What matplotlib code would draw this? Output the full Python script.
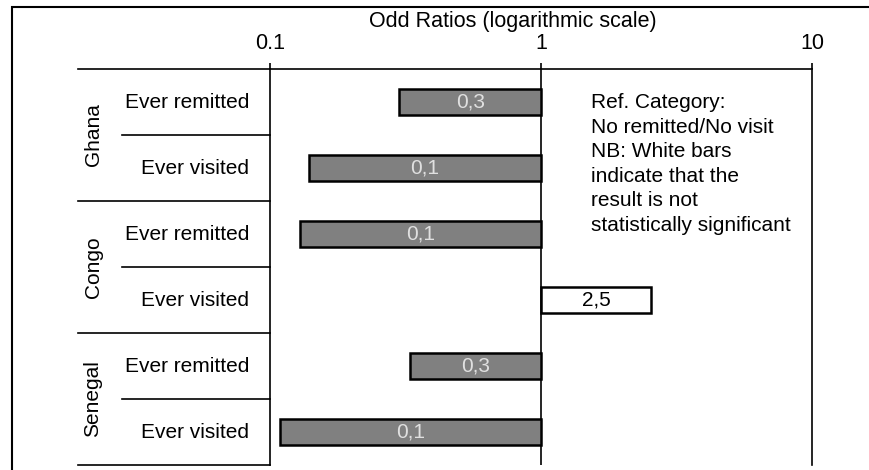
import matplotlib
matplotlib.use("Agg")
import matplotlib.pyplot as plt
import matplotlib.patches as mpatches
import numpy as np

plt.rcParams['font.family'] = ['Liberation Sans', 'DejaVu Sans']

# ---- data ----
groups = ['Ghana', 'Congo', 'Senegal']
categories = ['Ever remitted', 'Ever visited', 'Ever remitted', 'Ever visited',
              'Ever remitted', 'Ever visited']
odds = [0.30, 0.139, 0.129, 2.55, 0.329, 0.109]
value_labels = ['0,3', '0,1', '0,1', '2,5', '0,3', '0,1']
significant = [True, True, True, False, True, True]
xticks = [0.1, 1, 10]
xtick_labels = ['0.1', '1', '10']
title = 'Odd Ratios (logarithmic scale)'
note = ('Ref. Category:\nNo remitted/No visit\nNB: White bars\nindicate that the\n'
        'result is not\nstatistically significant')

W, H = 869, 470
fig = plt.figure(figsize=(W / 100, H / 100), dpi=100)

# outer frame (top and left visible, rest cropped)
fig.patches.append(mpatches.Rectangle((12 / W, -0.1), 1.2, 1 - 7 / H + 0.1,
                                      transform=fig.transFigure, fill=False,
                                      edgecolor='black', linewidth=1.5))

ax_l, ax_r, ax_t, ax_b = 270, 812, 69, 465
ax = fig.add_axes([ax_l / W, 1 - ax_b / H, (ax_r - ax_l) / W, (ax_b - ax_t) / H])
ax.set_xscale('log')
ax.set_xlim(0.1, 10)
n = len(categories)
ax.set_ylim(n, 0)

y = np.arange(n) + 0.5
for i in range(n):
    fc = '#808080' if significant[i] else 'white'
    ax.barh(y[i], odds[i] - 1, left=1, height=0.38, color=fc,
            edgecolor='black', linewidth=1.8, zorder=3)
    xc = np.sqrt(odds[i] * 1)
    ax.text(xc, y[i], value_labels[i], ha='center', va='center', fontsize=15,
            color='#e0e0e0' if significant[i] else 'black', zorder=4)

ax.axvline(1, color='black', linewidth=1.2, zorder=2)

# spines
ax.spines['bottom'].set_visible(False)
for s in ['top', 'left', 'right']:
    ax.spines[s].set_linewidth(1.2)

ax.xaxis.tick_top()
ax.set_xticks(xticks)
ax.set_xticklabels(xtick_labels)
ax.xaxis.set_minor_locator(matplotlib.ticker.NullLocator())
ax.tick_params(axis='x', which='major', direction='out', length=4.5, width=1.2,
               pad=6, labelsize=15.5)
ax.set_yticks([])

# category area lines
trans = matplotlib.transforms.blended_transform_factory(ax.transAxes, ax.transData)
x_group = (78 - ax_l) / (ax_r - ax_l)
x_sub = (122 - ax_l) / (ax_r - ax_l)
ax.plot([x_group, 0], [0, 0], transform=trans, color='black', lw=1.2, clip_on=False)
for k in range(1, n + 1):
    x0 = x_group if k % 2 == 0 else x_sub
    ax.plot([x0, 0], [k, k], transform=trans, color='black', lw=1.2, clip_on=False)

x_cat = (249 - ax_l) / (ax_r - ax_l)
for i, c in enumerate(categories):
    ax.text(x_cat, y[i], c, transform=trans, ha='right', va='center', fontsize=15)

x_grp = (93 - ax_l) / (ax_r - ax_l)
for g, name in enumerate(groups):
    ax.text(x_grp, 2 * g + 1, name, transform=trans, ha='center', va='center',
            rotation=90, fontsize=15)

fig.text(513 / W, 1 - 21 / H, title, ha='center', va='center', fontsize=15.5)

ax.text(591 / W, 1 - 93 / H, note, transform=fig.transFigure, ha='left', va='top',
        fontsize=15, linespacing=1.37)

fig.savefig('out.png', dpi=100)
